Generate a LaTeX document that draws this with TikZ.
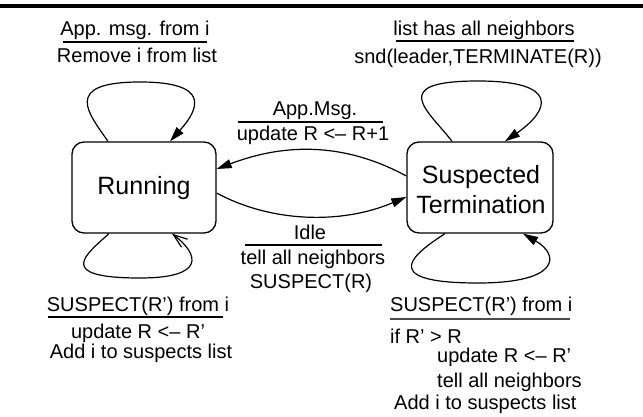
\documentclass[tikz,border=0pt]{standalone}
\usepackage{fontspec}
\setmainfont{Liberation Sans}
\usetikzlibrary{arrows.meta,calc}
\begin{document}
\begin{tikzpicture}[x=1pt,y=-1pt,
  state/.style={draw,line width=1.3pt,rounded corners=12pt,inner sep=0pt},
  lbl/.style={inner sep=0pt,font=\fontsize{20}{24}\selectfont},
  big/.style={inner sep=0pt,font=\fontsize{25}{30}\selectfont},
  conn/.style={line width=1.2pt,-{Triangle[length=15pt,width=9pt]}},
  openconn/.style={line width=1.2pt,-{Straight Barb[length=14pt,width=10pt]}},
  rule/.style={line width=1.2pt}]
\useasboundingbox (0,0) rectangle (643,417);
\draw[line width=4pt] (0,6) -- (643,6);
% states
\node[state,minimum width=144pt,minimum height=91pt] (run) at (144,187.5) {};
\node[state,minimum width=146pt,minimum height=91pt] (sus) at (480,187.5) {};
\node[big,anchor=base] (runtxt) at (144,194) {Running};
\node[big,anchor=base] (sustxt1) at (481,184) {Suspected};
\node[big,anchor=base] (sustxt2) at (481,214) {Termination};
% labels
\node[lbl,anchor=base] (l1a) at (135,36) {App. msg. from i};
\draw[rule] (63,42) -- (207,42);
\node[lbl,anchor=base] (l1b) at (137,63) {Remove i from list};
\node[lbl,anchor=base] (l2a) at (484,36) {list has all neighbors};
\draw[rule] (396,41) -- (574,41);
\node[lbl,anchor=base] (l2b) at (478,64) {snd(leader,TERMINATE(R))};
\node[lbl,anchor=base] (l3a) at (315,116) {App.Msg.};
\draw[rule] (238,122) -- (383,122);
\node[lbl,anchor=base] (l3b) at (313,141) {update R <– R+1};
\node[lbl,anchor=base] (l4a) at (310,240) {Idle};
\draw[rule] (245,245) -- (382,245);
\node[lbl,anchor=base] (l4b) at (313,264) {tell all neighbors};
\node[lbl,anchor=base] (l4c) at (311,288) {SUSPECT(R)};
\node[lbl,anchor=base] (l5a) at (138,311) {SUSPECT(R’) from i};
\draw[rule] (48,317) -- (223,317);
\node[lbl,anchor=base] (l5b) at (138,338) {update R <– R’};
\node[lbl,anchor=base] (l5c) at (141,358) {Add i to suspects list};
\node[lbl,anchor=base west] (l6a) at (390,311) {SUSPECT(R’) from i};
\draw[rule,draw=black!70] (390,319) -- (570,319);
\node[lbl,anchor=base west] (l6b) at (390,343) {if R’ > R};
\node[lbl,anchor=base west] (l6c) at (437,362) {update R <– R’};
\node[lbl,anchor=base west] (l6d) at (437,387) {tell all neighbors};
\node[lbl,anchor=base west] (l6e) at (394,409) {Add i to suspects list};
% connectors
\draw[conn] ([xshift=-36pt]run.north) .. controls (90,115) and (60,82) .. (140,82) .. controls (210,82) and (200,108) .. ([xshift=26pt]run.north);
\draw[openconn] ([xshift=-35pt]run.south) .. controls (85,255) and (55,278) .. (140,278) .. controls (205,278) and (200,255) .. ([xshift=28pt]run.south);
\draw[conn] ([xshift=-28pt]sus.north) .. controls (430,112) and (385,81) .. (478,81) .. controls (560,81) and (550,110) .. ([xshift=25pt]sus.north);
\draw[conn] ([xshift=-35pt]sus.south) .. controls (420,250) and (370,283) .. (478,283) .. controls (560,283) and (560,255) .. ([xshift=43pt]sus.south);
\draw[conn] ([yshift=11.5pt]sus.west) .. controls (340,140) and (280,145) .. ([yshift=18.5pt]run.east);
\draw[conn] ([yshift=-5.5pt]run.east) .. controls (270,222) and (340,225) .. ([yshift=-9.5pt]sus.west);
\end{tikzpicture}
\end{document}
